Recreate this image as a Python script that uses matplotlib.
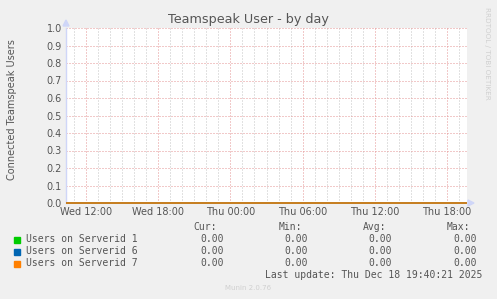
import numpy as np
import matplotlib
matplotlib.use("Agg")
import matplotlib.pyplot as plt

# ---- data ----
series_names = ["Users on Serverid 1", "Users on Serverid 6", "Users on Serverid 7"]
series_colors = ["#00CC00", "#0066B3", "#FF8000"]
# hours since Wed 00:00
times = [10 + 20 / 60, 43 + 40 / 60]
series_values = [[0.0, 0.0], [0.0, 0.0], [0.0, 0.0]]
cur_vals = [0.00, 0.00, 0.00]
min_vals = [0.00, 0.00, 0.00]
avg_vals = [0.00, 0.00, 0.00]
max_vals = [0.00, 0.00, 0.00]
x_tick_pos = [12, 18, 24, 30, 36, 42]
x_tick_labels = ["Wed 12:00", "Wed 18:00", "Thu 00:00", "Thu 06:00", "Thu 12:00", "Thu 18:00"]
y_ticks = [0.0, 0.1, 0.2, 0.3, 0.4, 0.5, 0.6, 0.7, 0.8, 0.9, 1.0]

W, H = 497, 299
BG = "#F0F0F0"
TXT = "#555555"
AXC = "#CFD6F8"
DOT = (0, (1, 2))


def fx(x):
    return x / W


def fy(y):
    return 1 - y / H


fig = plt.figure(figsize=(W / 100, H / 100), dpi=100)
fig.patch.set_facecolor(BG)

left, right, top, bottom = 66, 467, 28, 203
ax = fig.add_axes([fx(left), fy(bottom), (right - left) / W, (bottom - top) / H])
ax.set_facecolor("white")
ax.set_xlim(times[0], times[1])
ax.set_ylim(0, 1.0)

# grid: minor every hour, major every 6h / every 0.1
grid_kw = dict(lw=0.72, ls=DOT, zorder=1)
for h in range(11, 44):
    if h % 6 == 0:
        continue
    ax.axvline(h, color="#C4C4C4", **grid_kw)
for h in x_tick_pos:
    ax.axvline(h, color="#E49494", **grid_kw)
for yv in y_ticks[1:]:
    ax.axhline(yv, color="#E49494", **grid_kw)

for k, (name, col, vals) in enumerate(zip(series_names, series_colors, series_values)):
    ax.plot(times, vals, color=col, lw=1.1, zorder=3 + k, solid_capstyle="butt",
            clip_on=False)

for s in ["top", "right", "bottom"]:
    ax.spines[s].set_visible(False)
ax.spines["left"].set_color(AXC)
ax.spines["left"].set_linewidth(1.0)

ax.set_xticks(x_tick_pos)
ax.set_xticklabels(x_tick_labels)
ax.set_yticks(y_ticks)
ax.set_yticklabels(["%.1f" % v for v in y_ticks])
ax.tick_params(axis="both", length=0, labelsize=7, colors=TXT, pad=3)

# arrows at axis ends
fig.patches.append(plt.Polygon([[fx(63), fy(26)], [fx(69), fy(26)], [fx(66), fy(20)]],
                               closed=True, transform=fig.transFigure, color=AXC))
fig.patches.append(plt.Polygon([[fx(468), fy(200)], [fx(468), fy(206)], [fx(474), fy(203)]],
                               closed=True, transform=fig.transFigure, color=AXC))

fig.text(fx(248), fy(19), "Teamspeak User - by day", ha="center", va="center",
         fontsize=9.2, color=TXT)
fig.text(fx(12), fy(110), "Connected Teamspeak Users", ha="center", va="center",
         rotation=90, fontsize=7.0, color=TXT)
fig.text(fx(487), fy(53), "RRDTOOL / TOBI OETIKER", ha="center", va="center",
         rotation=270, fontsize=5.2, color="#D0D0D0")
fig.text(fx(248), fy(288), "Munin 2.0.76", ha="center", va="center",
         fontsize=5.0, color="#D0D0D0")

mono = dict(family="DejaVu Sans Mono", fontsize=7, color=TXT, va="center")
col_right = [224, 308, 392, 477]
head_right = [217, 302, 386, 470]
for txt, xr in zip(["Cur:", "Min:", "Avg:", "Max:"], head_right):
    fig.text(fx(xr), fy(227.5), txt, ha="right", **mono)

row_y = [239.5, 251.5, 263.5]
for i, (name, col) in enumerate(zip(series_names, series_colors)):
    y = row_y[i]
    fig.patches.append(plt.Rectangle((fx(14), fy(y + 3)), 6 / W, 6 / H,
                                     transform=fig.transFigure, color=col))
    fig.text(fx(26), fy(y), name, ha="left", **mono)
    for vals, xr in zip([cur_vals, min_vals, avg_vals, max_vals], col_right):
        fig.text(fx(xr), fy(y), "%.2f" % vals[i], ha="right", **mono)

fig.text(fx(482), fy(275.5), "Last update: Thu Dec 18 19:40:21 2025", ha="right", **mono)

fig.savefig("out.png", dpi=100, facecolor=BG)
